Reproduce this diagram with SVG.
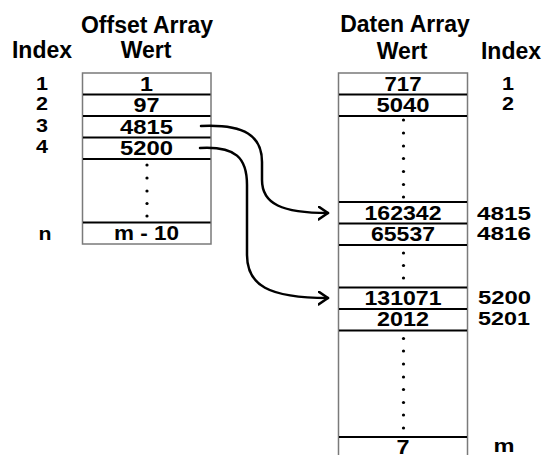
<svg xmlns="http://www.w3.org/2000/svg" width="542" height="455" viewBox="0 0 542 455">
<style>
.h{font-family:"Liberation Sans",Arial,sans-serif;font-weight:bold;font-size:23px;fill:#000;text-anchor:middle}
.n{font-family:"Liberation Sans",Arial,sans-serif;font-weight:bold;font-size:20.5px;fill:#000;text-anchor:middle}
.i{font-family:"Liberation Sans",Arial,sans-serif;font-weight:bold;font-size:19px;fill:#000;text-anchor:middle}
.s{text-anchor:start}
.box{fill:#fff;stroke:#7a7a7a;stroke-width:1.5}
.div{stroke:#000;stroke-width:2}
.dot{fill:#000}
.con{fill:none;stroke:#000;stroke-width:2.5;stroke-linecap:round}
</style>
<defs>
<marker id="arr" markerUnits="userSpaceOnUse" markerWidth="14" markerHeight="16" refX="10" refY="7" orient="auto" viewBox="0 0 14 16">
<path d="M0.5,0.5 L10,7 L0.5,13.5" fill="none" stroke="#000" stroke-width="2.5" stroke-linecap="round" stroke-linejoin="round"/>
</marker>
</defs>

<g id="offset-array">
<text class="h" x="147" y="32.5">Offset Array</text>
<text class="h" x="42" y="57.5">Index</text>
<text class="h" x="146" y="57.5">Wert</text>
<rect class="box" x="82.5" y="73" width="128.5" height="171"/>
<line class="div" x1="83" y1="94.5" x2="210.5" y2="94.5"/>
<line class="div" x1="83" y1="116" x2="210.5" y2="116"/>
<line class="div" x1="83" y1="137.5" x2="210.5" y2="137.5"/>
<line class="div" x1="83" y1="159" x2="210.5" y2="159"/>
<line class="div" x1="83" y1="222.5" x2="210.5" y2="222.5"/>
<text class="n" x="146.5" y="90.8" textLength="13" lengthAdjust="spacingAndGlyphs">1</text>
<text class="n" x="146.5" y="112.2" textLength="26" lengthAdjust="spacingAndGlyphs">97</text>
<text class="n" x="146.5" y="133.7" textLength="53" lengthAdjust="spacingAndGlyphs">4815</text>
<text class="n" x="146.5" y="155.2" textLength="53" lengthAdjust="spacingAndGlyphs">5200</text>
<text class="n" x="146.5" y="240.2" textLength="65" lengthAdjust="spacingAndGlyphs">m - 10</text>
<circle class="dot" cx="147" cy="165" r="1.6"/>
<circle class="dot" cx="147" cy="178" r="1.6"/>
<circle class="dot" cx="147" cy="191" r="1.6"/>
<circle class="dot" cx="147" cy="203.5" r="1.6"/>
<circle class="dot" cx="147" cy="216" r="1.6"/>
<text class="i" x="42" y="89.8" textLength="12" lengthAdjust="spacingAndGlyphs">1</text>
<text class="i" x="42" y="110.3" textLength="12" lengthAdjust="spacingAndGlyphs">2</text>
<text class="i" x="42" y="131.8" textLength="12" lengthAdjust="spacingAndGlyphs">3</text>
<text class="i" x="42" y="153.3" textLength="12" lengthAdjust="spacingAndGlyphs">4</text>
<text class="i" x="45" y="240.2" textLength="13" lengthAdjust="spacingAndGlyphs">n</text>
</g>

<g id="daten-array">
<text class="h" x="405" y="32">Daten Array</text>
<text class="h" x="402" y="58.5">Wert</text>
<text class="h" x="511" y="58.5">Index</text>
<rect class="box" x="338.5" y="73" width="129" height="390"/>
<line class="div" x1="339" y1="94.5" x2="467" y2="94.5"/>
<line class="div" x1="339" y1="116" x2="467" y2="116"/>
<line class="div" x1="339" y1="202" x2="467" y2="202"/>
<line class="div" x1="339" y1="223.5" x2="467" y2="223.5"/>
<line class="div" x1="339" y1="245" x2="467" y2="245"/>
<line class="div" x1="339" y1="287.5" x2="467" y2="287.5"/>
<line class="div" x1="339" y1="309" x2="467" y2="309"/>
<line class="div" x1="339" y1="330.5" x2="467" y2="330.5"/>
<line class="div" x1="339" y1="437" x2="467" y2="437"/>
<text class="n" x="403" y="90.8" textLength="37" lengthAdjust="spacingAndGlyphs">717</text>
<text class="n" x="403" y="112.2" textLength="53" lengthAdjust="spacingAndGlyphs">5040</text>
<text class="n" x="403" y="219.7" textLength="77" lengthAdjust="spacingAndGlyphs">162342</text>
<text class="n" x="403" y="241.2" textLength="64" lengthAdjust="spacingAndGlyphs">65537</text>
<text class="n" x="403" y="304.7" textLength="77" lengthAdjust="spacingAndGlyphs">131071</text>
<text class="n" x="403" y="326.2" textLength="52" lengthAdjust="spacingAndGlyphs">2012</text>
<text class="n" x="403" y="453.5" textLength="13" lengthAdjust="spacingAndGlyphs">7</text>
<circle class="dot" cx="403.5" cy="120" r="1.6"/>
<circle class="dot" cx="403.5" cy="133" r="1.6"/>
<circle class="dot" cx="403.5" cy="146" r="1.6"/>
<circle class="dot" cx="403.5" cy="158.5" r="1.6"/>
<circle class="dot" cx="403.5" cy="171.5" r="1.6"/>
<circle class="dot" cx="403.5" cy="184.5" r="1.6"/>
<circle class="dot" cx="403.5" cy="197" r="1.6"/>
<circle class="dot" cx="403.5" cy="253" r="1.6"/>
<circle class="dot" cx="403.5" cy="265.5" r="1.6"/>
<circle class="dot" cx="403.5" cy="278" r="1.6"/>
<circle class="dot" cx="403.5" cy="338.5" r="1.6"/>
<circle class="dot" cx="403.5" cy="351" r="1.6"/>
<circle class="dot" cx="403.5" cy="364" r="1.6"/>
<circle class="dot" cx="403.5" cy="377" r="1.6"/>
<circle class="dot" cx="403.5" cy="389.5" r="1.6"/>
<circle class="dot" cx="403.5" cy="402.5" r="1.6"/>
<circle class="dot" cx="403.5" cy="415" r="1.6"/>
<circle class="dot" cx="403.5" cy="428" r="1.6"/>
<text class="i" x="508" y="89.8" textLength="12" lengthAdjust="spacingAndGlyphs">1</text>
<text class="i" x="508" y="110.3" textLength="12" lengthAdjust="spacingAndGlyphs">2</text>
<text class="i s" x="477" y="219.5" textLength="54" lengthAdjust="spacingAndGlyphs">4815</text>
<text class="i s" x="477" y="239.5" textLength="54" lengthAdjust="spacingAndGlyphs">4816</text>
<text class="i s" x="478" y="303.5" textLength="53" lengthAdjust="spacingAndGlyphs">5200</text>
<text class="i s" x="478" y="325" textLength="52" lengthAdjust="spacingAndGlyphs">5201</text>
<text class="i" x="504" y="452" textLength="21" lengthAdjust="spacingAndGlyphs">m</text>
</g>

<g id="connectors">
<path class="con" d="M201,126 C245,124 262,136 262,162 L262,180 C262,204 282,213 328,213" marker-end="url(#arr)"/>
<path class="con" d="M200,148 C236,146 247,158 247,185 L247,255 C247,285 268,298 328,298" marker-end="url(#arr)"/>
</g>
</svg>
